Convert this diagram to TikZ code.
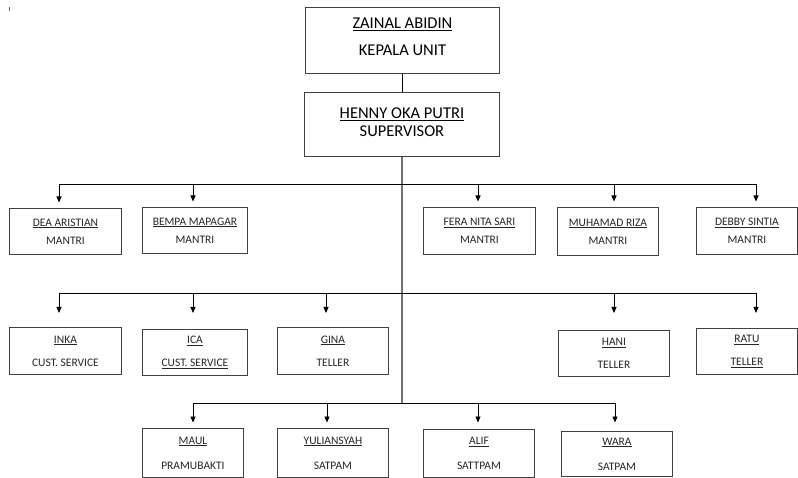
\documentclass[tikz,border=0pt]{standalone}
\usepackage{fontspec}
\setmainfont{Carlito}
\usetikzlibrary{arrows.meta}
\begin{document}
\begin{tikzpicture}[x=1pt,y=-1pt,
  box/.style={draw=black!75, line width=0.9pt, inner sep=0pt, align=center, text=black!85, anchor=north west},
  big/.style={box, font=\fontsize{16.5}{19}\selectfont, text=black},
  small/.style={box, font=\fontsize{11.5}{13.5}\selectfont},
  ln/.style={draw=black, line width=0.8pt},
  trunk/.style={draw=black!55, line width=1.3pt},
  arr/.style={ln, -{Triangle[length=6pt,width=5pt]}, shorten >=5.5pt}
]
\useasboundingbox (0,0) rectangle (798,478);
\draw[black!60, line width=0.6pt] (9,7) -- (9,11);
% top
\node[big, minimum width=194pt, minimum height=66pt] (top) at (305,7) {\underline{ZAINAL ABIDIN}\\[8pt]KEPALA UNIT\\[-12pt]\mbox{}};
\node[big, minimum width=195pt, minimum height=64pt] (sup) at (304,92) {\underline{HENNY OKA PUTRI}\\[-1pt]SUPERVISOR\\[-14pt]\mbox{}};
% row 1
\node[small, minimum width=112pt, minimum height=46pt] (dea) at (9,208) {\underline{DEA ARISTIAN}\\[4.5pt]MANTRI};
\node[small, minimum width=105pt, minimum height=46pt] (bempa) at (142,207) {\underline{BEMPA MAPAGAR}\\[4.5pt]MANTRI};
\node[small, minimum width=112pt, minimum height=47pt] (fera) at (423,207) {\underline{FERA NITA SARI}\\[4.5pt]MANTRI};
\node[small, minimum width=101pt, minimum height=48pt] (riza) at (557,207) {\underline{MUHAMAD RIZA}\\[4.5pt]MANTRI};
\node[small, minimum width=101pt, minimum height=47pt] (debby) at (696,207) {\underline{DEBBY SINTIA}\\[4.5pt]MANTRI};
% row 2
\node[small, minimum width=112pt, minimum height=47pt] (inka) at (9,327) {\underline{INKA}\\[9.5pt]CUST. SERVICE};
\node[small, minimum width=105pt, minimum height=46pt] (ica) at (142,329) {\underline{ICA}\\[9.5pt]\underline{CUST. SERVICE}};
\node[small, minimum width=111pt, minimum height=47pt] (gina) at (277,327) {\underline{GINA}\\[9.5pt]TELLER};
\node[small, minimum width=111pt, minimum height=46pt] (hani) at (558,330) {\underline{HANI}\\[9.5pt]TELLER};
\node[small, minimum width=101pt, minimum height=46pt] (ratu) at (696,328) {\underline{RATU}\\[9.5pt]\underline{TELLER}};
% row 3
\node[small, minimum width=101pt, minimum height=49pt] (maul) at (142,428) {\underline{MAUL}\\[11.5pt]PRAMUBAKTI};
\node[small, minimum width=111pt, minimum height=49pt] (yul) at (277,428) {\underline{YULIANSYAH}\\[11.5pt]SATPAM};
\node[small, minimum width=111pt, minimum height=48pt] (alif) at (423,429) {\underline{ALIF}\\[11.5pt]SATTPAM};
\node[small, minimum width=111pt, minimum height=45pt] (wara) at (561,431) {\underline{WARA}\\[11.5pt]SATPAM};
% connectors
\draw[ln] (top.south) -- (top.south |- sup.north);
\coordinate (tend) at (402,403);
\draw[trunk] (sup.south -| tend) -- (tend);
% row 1 bus
\coordinate (a1) at (59,184);
\coordinate (a2) at (193,184);
\coordinate (a3) at (478,184);
\coordinate (a4) at (614,184);
\coordinate (a5) at (756,184);
\draw[ln] (a1) -- (a5);
\draw[arr] (a1) -- (a1 |- dea.north);
\draw[arr] (a2) -- (a2 |- bempa.north);
\draw[arr] (a3) -- (a3 |- fera.north);
\draw[arr] (a4) -- (a4 |- riza.north);
\draw[arr] (a5) -- (a5 |- debby.north);
% row 2 bus
\coordinate (b1) at (59,293);
\coordinate (b2) at (193,293);
\coordinate (b3) at (326,293);
\coordinate (b4) at (614,293);
\coordinate (b5) at (756,293);
\draw[ln] (b1) -- (b5);
\draw[arr, shorten >=14pt] (b1) -- (b1 |- inka.north);
\draw[arr, shorten >=16pt] (b2) -- (b2 |- ica.north);
\draw[arr, shorten >=14pt] (b3) -- (b3 |- gina.north);
\draw[arr, shorten >=17pt] (b4) -- (b4 |- hani.north);
\draw[arr, shorten >=15pt] (b5) -- (b5 |- ratu.north);
% row 3 bus
\coordinate (c1) at (193,403);
\coordinate (c2) at (327,403);
\coordinate (c3) at (478,403);
\coordinate (c4) at (615,403);
\draw[ln] (c1) -- (c4);
\draw[arr] (c1) -- (c1 |- maul.north);
\draw[arr] (c2) -- (c2 |- yul.north);
\draw[arr, shorten >=6.5pt] (c3) -- (c3 |- alif.north);
\draw[arr, shorten >=8.5pt] (c4) -- (c4 |- wara.north);
\end{tikzpicture}
\end{document}
